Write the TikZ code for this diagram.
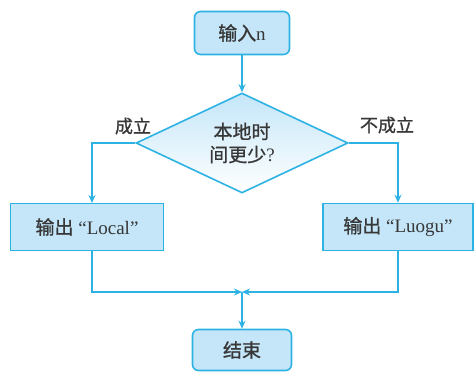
\documentclass[tikz,border=0pt]{standalone}
\usepackage{fontspec}
\setmainfont{Liberation Serif}
\newfontfamily\cjk[FakeBold=1]{Noto Sans CJK SC}
\usetikzlibrary{shapes.geometric,arrows.meta}
\definecolor{lineblue}{RGB}{45,178,228}
\definecolor{fillA}{RGB}{196,230,248}
\definecolor{fillB}{RGB}{236,247,253}
\definecolor{txt}{RGB}{55,55,55}
\begin{document}
\begin{tikzpicture}[x=1pt,y=-1pt,
  every node/.style={text=txt,font=\fontsize{19}{23}\selectfont},
  boxbase/.style={draw=lineblue,line width=1.6pt,top color=fillA,middle color=fillB,bottom color=fillA,inner sep=0pt},
  termbox/.style={boxbase,rounded corners=6pt,minimum width=95pt,minimum height=43pt},
  iobox/.style={boxbase,minimum height=47pt},
  decbox/.style={diamond,draw=lineblue,line width=1.6pt,top color=fillA,bottom color=white,shape aspect=2.1,inner sep=0pt,minimum width=212pt,minimum height=100pt,align=center},
  arr/.style={draw=lineblue,line width=1.3pt,-{Stealth[length=8pt,width=7pt]}},
  lbl/.style={font=\fontsize{18}{21}\selectfont\cjk}]
\useasboundingbox (0,0) rectangle (475,373);
\node[termbox] (in) at (242,33) {\cjk 输入\rmfamily n};
\node[decbox] (dec) at (242,143) {\cjk 本地时\\\cjk 间更少\rmfamily ?};
\node[iobox,minimum width=153pt] (lout) at (87,227) {{\cjk 输出} “Local”};
\node[iobox,minimum width=150pt] (rout) at (398,227) {{\cjk 输出} “Luogu”};
\node[termbox,minimum width=99pt,minimum height=41pt] (end) at (242,350) {\cjk 结束};
\node[lbl] (yes) at (133,126) {成立};
\node[lbl] (no) at (387,125) {不成立};
\coordinate (join) at (242,292);
\coordinate (ltop) at (92,203);
\coordinate (lbot) at (92,250);
\draw[arr] (in) -- (dec);
\draw[arr] (dec.west) -| (ltop);
\draw[arr] (dec.east) -| (rout.north);
\draw[arr] (lbot) |- (join);
\draw[arr] (rout.south) |- (join);
\draw[arr] (join) -- (end);
\end{tikzpicture}
\end{document}
